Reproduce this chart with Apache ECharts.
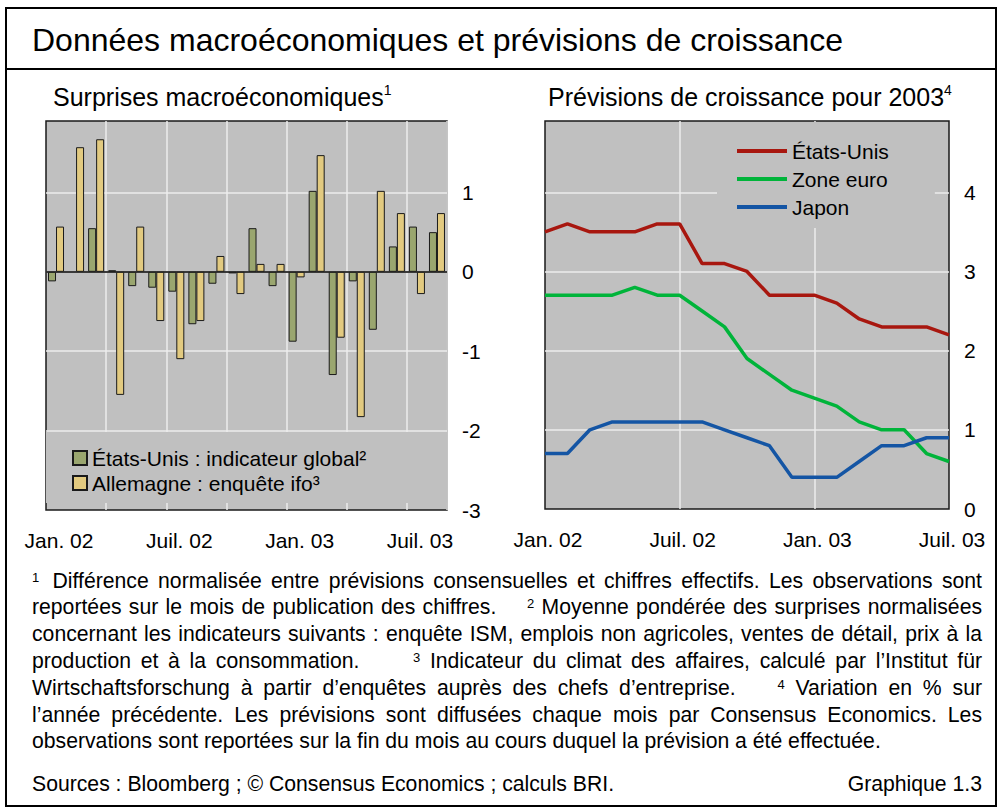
<!DOCTYPE html>
<html>
<head>
<meta charset="utf-8">
<script src="https://cdn.jsdelivr.net/npm/echarts@6/dist/echarts.min.js"></script>
<style>
body{margin:0;background:#fff;font-family:"Liberation Sans",Arial,sans-serif;color:#000;}
#page{position:relative;width:1000px;height:809px;overflow:hidden;}
.frame{position:absolute;left:5px;top:7px;width:992px;height:800px;border:2px solid #000;box-sizing:border-box;}
.sep{position:absolute;left:5px;top:68px;width:992px;height:2px;background:#000;}
.title{position:absolute;left:32px;top:20px;font-size:32px;line-height:40px;white-space:nowrap;}
.sub{position:absolute;top:82px;font-size:25px;line-height:30px;white-space:nowrap;}
.sub sup{font-size:14px;vertical-align:11px;line-height:0;}
#chart{position:absolute;left:0;top:0;width:1000px;height:565px;}
.notes{position:absolute;left:32px;top:567.6px;width:950px;font-size:21.2px;line-height:26.8px;}
.notes div{white-space:nowrap;height:26.8px;}
.notes sup{font-size:13px;vertical-align:6px;line-height:0;}
.g{display:inline-block;}
.src{position:absolute;left:32px;top:771px;font-size:21.2px;line-height:26px;white-space:nowrap;}
.gr{position:absolute;right:18px;top:771px;font-size:21.2px;line-height:26px;white-space:nowrap;}
</style>
</head>
<body>
<div id="page">
  <div class="frame"></div>
  <div class="sep"></div>
  <div class="title">Données macroéconomiques et prévisions de croissance</div>
  <div class="sub" style="left:53px">Surprises macroéconomiques<sup>1</sup></div>
  <div class="sub" style="left:548px">Prévisions de croissance pour 2003<sup>4</sup></div>
  <div id="chart"></div>
  <div class="notes">
    <div class="j"><sup>1</sup><span class="g" style="width:4px"></span> Différence normalisée entre prévisions consensuelles et chiffres effectifs. Les observations sont</div>
    <div class="j">reportées sur le mois de publication des chiffres. <span class="g" style="width:16px"></span> <sup>2</sup> Moyenne pondérée des surprises normalisées</div>
    <div class="j">concernant les indicateurs suivants : enquête ISM, emplois non agricoles, ventes de détail, prix à la</div>
    <div class="j">production et à la consommation. <span class="g" style="width:34px"></span> <sup>3</sup> Indicateur du climat des affaires, calculé par l’Institut für</div>
    <div class="j">Wirtschaftsforschung à partir d’enquêtes auprès des chefs d’entreprise. <span class="g" style="width:20px"></span> <sup>4</sup> Variation en % sur</div>
    <div class="j">l’année précédente. Les prévisions sont diffusées chaque mois par Consensus Economics. Les</div>
    <div>observations sont reportées sur la fin du mois au cours duquel la prévision a été effectuée.</div>
  </div>
  <div class="src">Sources : Bloomberg ; © Consensus Economics ; calculs BRI.</div>
  <div class="gr">Graphique 1.3</div>
</div>
<script>
// ---- Data: left panel (monthly, Jan. 02 – Août 03) ----
const monthsLeft = ['Jan. 02','Févr. 02','Mars 02','Avr. 02','Mai 02','Juin 02','Juil. 02','Août 02','Sept. 02','Oct. 02','Nov. 02','Déc. 02',
                    'Jan. 03','Févr. 03','Mars 03','Avr. 03','Mai 03','Juin 03','Juil. 03','Août 03'];
const usSurprise = [-0.12, null, 0.55, 0.02, -0.18, -0.20, -0.25, -0.66, -0.15, -0.02, 0.55, -0.18,
                    -0.88, 1.02, -1.30, -0.12, -0.73, 0.32, 0.57, 0.50];
const ifoSurprise = [0.57, 1.57, 1.67, -1.55, 0.57, -0.62, -1.10, -0.62, 0.20, -0.28, 0.10, 0.10,
                     -0.07, 1.47, -0.83, -1.83, 1.02, 0.74, -0.28, 0.74];
const usSurpriseName = 'États-Unis : indicateur global²';
const ifoSurpriseName = 'Allemagne : enquête ifo³';

// ---- Data: right panel (monthly, Jan. 02 – Juil. 03) ----
const monthsRight = ['Jan. 02','Févr. 02','Mars 02','Avr. 02','Mai 02','Juin 02','Juil. 02','Août 02','Sept. 02','Oct. 02','Nov. 02','Déc. 02',
                     'Jan. 03','Févr. 03','Mars 03','Avr. 03','Mai 03','Juin 03','Juil. 03'];
const forecastUS   = [3.5, 3.6, 3.5, 3.5, 3.5, 3.6, 3.6, 3.1, 3.1, 3.0, 2.7, 2.7, 2.7, 2.6, 2.4, 2.3, 2.3, 2.3, 2.2];
const forecastEuro = [2.7, 2.7, 2.7, 2.7, 2.8, 2.7, 2.7, 2.5, 2.3, 1.9, 1.7, 1.5, 1.4, 1.3, 1.1, 1.0, 1.0, 0.7, 0.6];
const forecastJapan= [0.7, 0.7, 1.0, 1.1, 1.1, 1.1, 1.1, 1.1, 1.0, 0.9, 0.8, 0.4, 0.4, 0.4, 0.6, 0.8, 0.8, 0.9, 0.9];
const forecastNames = ['États-Unis', 'Zone euro', 'Japon'];

// ---- Axis settings ----
const leftYMin = -3, leftYMax = 1.9;
const rightYMin = 0, rightYMax = 4.9;

const FONT = '"Liberation Sans", Arial, sans-serif';
const BG = '#c0c0c0';
const GRIDLINE = '#ededed';
const BORDER = '#1a1a1a';
const GREEN_BAR = '#9aa66f';
const YELLOW_BAR = '#e2ca80';
const RED = '#a8170f';
const GREEN = '#00b43a';
const BLUE = '#1455a4';

// justify footnote lines to the full text width
(function () {
  const W = 950;
  document.querySelectorAll('.notes .j').forEach(function (el) {
    el.style.wordSpacing = '0px';
    const range = document.createRange();
    range.selectNodeContents(el);
    const natural = range.getBoundingClientRect().width;
    const spaces = (el.textContent.match(/ /g) || []).length;
    if (spaces > 0) el.style.wordSpacing = ((W - natural) / spaces) + 'px';
  });
})();

const chart = echarts.init(document.getElementById('chart'), null, {renderer: 'svg'});

const labelStyle = {fontSize: 21, color: '#000', fontFamily: FONT};

chart.setOption({
  animation: false,
  textStyle: {fontFamily: FONT, color: '#000'},
  grid: [
    {left: 46, top: 121, width: 401, height: 389, show: true, backgroundColor: BG, borderColor: BORDER, borderWidth: 1.5},
    {left: 545, top: 121, width: 404, height: 388, show: true, backgroundColor: BG, borderColor: BORDER, borderWidth: 1.5}
  ],
  legend: [
    {
      data: [usSurpriseName, ifoSurpriseName], orient: 'vertical', left: 46, top: 432,
      padding: [15.5, 81, 9.5, 26], itemWidth: 14, itemHeight: 14, itemGap: 4, icon: 'rect',
      backgroundColor: BG, textStyle: labelStyle, selectedMode: false, z: 8
    },
    {
      data: forecastNames, orient: 'vertical', left: 717, top: 122,
      padding: [18.5, 46, 10.5, 20], itemWidth: 50, itemHeight: 4, itemGap: 7, icon: 'rect',
      backgroundColor: BG, textStyle: labelStyle, selectedMode: false, z: 8
    }
  ],
  xAxis: [
    {
      gridIndex: 0, type: 'category', data: monthsLeft, boundaryGap: true, z: 3,
      axisLine: {show: false}, axisTick: {show: false},
      axisLabel: Object.assign({interval: 5, margin: 20, padding: [0, 0, 0, 6]}, labelStyle),
      splitLine: {show: true, interval: (i) => i > 0 && i % 3 === 0, lineStyle: {color: GRIDLINE, width: 1.5}}
    },
    {
      gridIndex: 1, type: 'category', data: monthsRight, boundaryGap: false, z: 3,
      axisLine: {show: false}, axisTick: {show: false},
      axisLabel: Object.assign({interval: 5, margin: 20, padding: [0, 0, 0, 6]}, labelStyle),
      splitLine: {show: true, interval: (i) => i > 0 && i < monthsRight.length - 1 && i % 6 === 0, lineStyle: {color: GRIDLINE, width: 1.5}}
    }
  ],
  yAxis: [
    {
      gridIndex: 0, type: 'value', position: 'right', min: leftYMin, max: leftYMax, interval: 1, z: 3,
      axisLine: {show: false}, axisTick: {show: false},
      axisLabel: Object.assign({margin: 15, align: 'left', showMaxLabel: false}, labelStyle),
      splitLine: {show: true, showMinLine: false, showMaxLine: false, lineStyle: {color: GRIDLINE, width: 1.5}}
    },
    {
      gridIndex: 1, type: 'value', position: 'right', min: rightYMin, max: rightYMax, interval: 1, z: 3,
      axisLine: {show: false}, axisTick: {show: false},
      axisLabel: Object.assign({margin: 15, align: 'left', showMaxLabel: false}, labelStyle),
      splitLine: {show: true, showMinLine: false, showMaxLine: false, lineStyle: {color: GRIDLINE, width: 1.5}}
    }
  ],
  series: [
    {
      name: usSurpriseName, type: 'bar', xAxisIndex: 0, yAxisIndex: 0, data: usSurprise,
      barWidth: 8, barGap: '0%', z: 5,
      itemStyle: {color: GREEN_BAR, borderColor: BORDER, borderWidth: 1},
      markLine: {
        silent: true, symbol: 'none', label: {show: false},
        lineStyle: {color: '#000', width: 1.5, type: 'solid'},
        data: [{yAxis: 0}]
      }
    },
    {
      name: ifoSurpriseName, type: 'bar', xAxisIndex: 0, yAxisIndex: 0, data: ifoSurprise,
      barWidth: 8, barGap: '0%', z: 5,
      itemStyle: {color: YELLOW_BAR, borderColor: BORDER, borderWidth: 1}
    },
    {
      name: forecastNames[0], type: 'line', xAxisIndex: 1, yAxisIndex: 1, data: forecastUS,
      symbol: 'none', z: 5, lineStyle: {color: RED, width: 3.5}, itemStyle: {color: RED}
    },
    {
      name: forecastNames[1], type: 'line', xAxisIndex: 1, yAxisIndex: 1, data: forecastEuro,
      symbol: 'none', z: 5, lineStyle: {color: GREEN, width: 3.5}, itemStyle: {color: GREEN}
    },
    {
      name: forecastNames[2], type: 'line', xAxisIndex: 1, yAxisIndex: 1, data: forecastJapan,
      symbol: 'none', z: 5, lineStyle: {color: BLUE, width: 3.5}, itemStyle: {color: BLUE}
    }
  ]
});
</script>
</body>
</html>
